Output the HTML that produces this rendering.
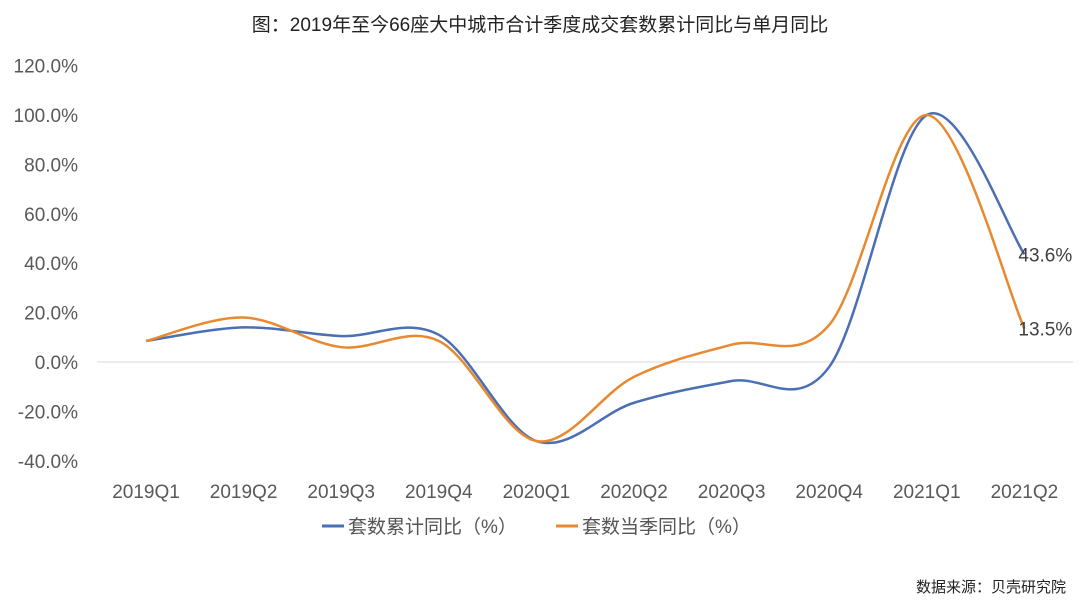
<!DOCTYPE html>
<html><head><meta charset="utf-8">
<style>
html,body{margin:0;padding:0;background:#fff;}
body{width:1080px;height:608px;overflow:hidden;font-family:"Liberation Sans","Noto Sans CJK SC",sans-serif;}
svg text{font-family:"Liberation Sans","Noto Sans CJK SC",sans-serif;}
</style></head>
<body>
<svg id="chart" width="1080" height="608" viewBox="0 0 1080 608" xmlns="http://www.w3.org/2000/svg">
<text x="540" y="31" text-anchor="middle" font-size="19" fill="#222">图：2019年至今66座大中城市合计季度成交套数累计同比与单月同比</text>
<g id="yaxis"></g>
<g id="xaxis"></g>
<g id="series"></g>
<g>
<line x1="322" y1="526" x2="344" y2="526" stroke="#4a6fb5" stroke-width="3"/>
<text x="348" y="533" font-size="19" fill="#555">套数累计同比（%）</text>
<line x1="556" y1="526" x2="578" y2="526" stroke="#e8892f" stroke-width="3"/>
<text x="582" y="533" font-size="19" fill="#555">套数当季同比（%）</text>
</g>
<text x="1066" y="592" text-anchor="end" font-size="15" fill="#222">数据来源：贝壳研究院</text>
</svg>
<script>
const categories=["2019Q1","2019Q2","2019Q3","2019Q4","2020Q1","2020Q2","2020Q3","2020Q4","2021Q1","2021Q2"];
const cumulative=[8.5,14,10.5,11,-32,-16.5,-7.7,-2,100,43.6];
const quarterly=[8.5,18,6,8.5,-32,-6,7,15,100,13.5];
const yTicks=[-40,-20,0,20,40,60,80,100,120];
const NS="http://www.w3.org/2000/svg";
const x=i=>146+i*97.6;
const y=v=>362-v*2.47;
function mk(t,a,p){const e=document.createElementNS(NS,t);for(const k in a)e.setAttribute(k,a[k]);p.appendChild(e);return e;}
const ya=document.getElementById('yaxis');
yTicks.forEach(t=>{const e=mk('text',{x:78,y:y(t)+7,'text-anchor':'end','font-size':19,fill:'#595959'},ya);e.textContent=t.toFixed(1)+'%';

});
const zl=mk('line',{x1:97,x2:1073,y1:y(0),y2:y(0),stroke:'#d9d9d9','stroke-width':1},ya);


const xa=document.getElementById('xaxis');
categories.forEach((c,i)=>{const e=mk('text',{x:x(i),y:498,'text-anchor':'middle','font-size':19,fill:'#595959'},xa);e.textContent=c;

});
function path(vals){const p=vals.map((v,i)=>[x(i),y(v)]);let d=`M${p[0][0]},${p[0][1]}`;
for(let i=0;i<p.length-1;i++){const p0=p[i-1]||p[i],p1=p[i],p2=p[i+1],p3=p[i+2]||p2;
const c1=[p1[0]+(p2[0]-p0[0])/6,p1[1]+(p2[1]-p0[1])/6],c2=[p2[0]-(p3[0]-p1[0])/6,p2[1]-(p3[1]-p1[1])/6];
d+=` C${c1[0]},${c1[1]} ${c2[0]},${c2[1]} ${p2[0]},${p2[1]}`;}return d;}
const sg=document.getElementById('series');
const l1=mk('path',{d:path(cumulative),fill:'none',stroke:'#4a6fb5','stroke-width':2.5},sg);


const l2=mk('path',{d:path(quarterly),fill:'none',stroke:'#e8892f','stroke-width':2.5},sg);


const n=categories.length-1;
const t1=mk('text',{x:x(n)-6,y:y(cumulative[n])+7,'font-size':19,fill:'#404040'},sg);t1.textContent=cumulative[n].toFixed(1)+'%';


const t2=mk('text',{x:x(n)-6,y:y(quarterly[n])+7,'font-size':19,fill:'#404040'},sg);t2.textContent=quarterly[n].toFixed(1)+'%';


</script>
</body></html>
